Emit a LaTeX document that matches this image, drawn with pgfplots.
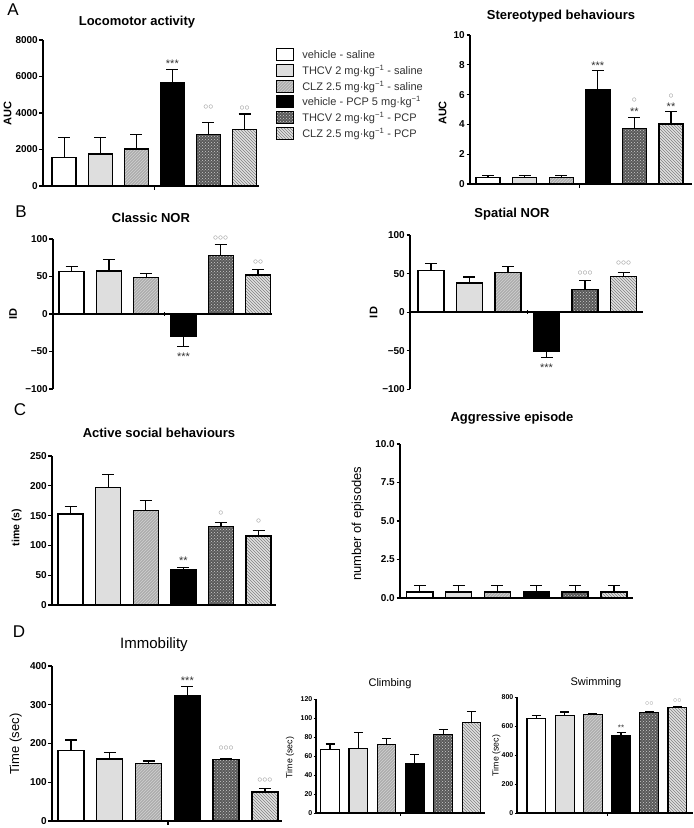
\documentclass[border=0pt]{standalone}
\usepackage{fontspec}
\setmainfont{Liberation Sans}
\usepackage{pgfplots}
\pgfplotsset{compat=1.18}
\usetikzlibrary{patterns}

% bar fills of the six groups
\tikzset{
  s1/.style={fill=white},
  s2/.style={fill=black!13},
  s3/.style={fill=black!32, postaction={pattern=north east lines, pattern color=black!18}},
  s4/.style={fill=black},
  s5/.style={fill=black!65, postaction={pattern=crosshatch dots, pattern color=black!20}},
  s6/.style={fill=black!12, postaction={pattern=north west lines, pattern color=black!50}},
  stars/.style={font=\fontsize{#1}{#1}\selectfont, text=black!80, inner sep=0pt, anchor=base, yshift={-0.57*#1pt}},
  stars/.default=11,
  circs/.style={font=\fontsize{#1}{#1}\selectfont, text=black!45, inner sep=0pt},
  circs/.default=10,
  ttl/.style={font=\bfseries\fontsize{13}{13}\selectfont, anchor=base},
  let/.style={font=\fontsize{17}{17}\selectfont, anchor=base},
}

\pgfplotsset{
  prism/.style={
    scale only axis,
    axis x line=bottom, axis y line=left,
    axis line style={-, line width=1.4pt},
    tick align=outside,
    major tick length=3.5pt,
    tick style={line width=1.1pt, black},
    xtick={3.5}, xticklabels={},
    enlargelimits=false,
    clip=false,
    scaled y ticks=false,
    hide obscured x ticks=false, hide obscured y ticks=false,
    /pgf/number format/assume math mode=true,
    /pgf/number format/1000 sep={},
    yticklabel style={font=\bfseries\fontsize{10}{10}\selectfont, inner sep=1.5pt},
  },
  mid/.style={axis x line=middle,
    every inner x axis line/.style={-, line width=1.4pt},
    x axis line style={-}},
  pbar/.style={ybar, bar shift=0pt, draw=black, line width=1.4pt,
    /pgfplots/error bars/y dir=plus,
    /pgfplots/error bars/y explicit,
    /pgfplots/error bars/error bar style={line width=1.2pt, black, solid},
    /pgfplots/error bars/error mark options={rotate=90, mark size=#1, line width=1.2pt, black}},
  pbar/.default=6pt,
}

\newcommand\oo{${\circ}{\circ}$}
\newcommand\ooo{${\circ}{\circ}{\circ}$}
\newcommand\oc{${\circ}$}

\begin{document}
\begin{tikzpicture}
\path[use as bounding box] (0pt,0pt) rectangle (694pt,-828pt);

% ---------------- A: locomotor activity
\begin{axis}[prism, at={(43pt,-186pt)}, anchor=south west,
  width=216pt, height=146pt, xmin=0.415, xmax=6.40, ymin=0, ymax=8000,
  ytick={0,2000,4000,6000,8000}, bar width=0.665,
  legend style={at={(1.0787,0.945)}, anchor=north west, draw=none, fill=none,
    font=\fontsize{11}{12}\selectfont, text=black!80, row sep=2.6pt, inner sep=0pt,
    nodes={inner sep=0pt, anchor=west},
    /tikz/every odd column/.append style={column sep=8pt}},
  legend cell align=left,
  legend image code/.code={\draw[#1,/tikz/.cd,line width=1.1pt] (0pt,-6pt) rectangle (17pt,6pt);},
]
\addplot[pbar, s1] coordinates {(1,1570) +- (0,1080)};
\addplot[pbar, s2] coordinates {(2,1750) +- (0,900)};
\addplot[pbar, s3] coordinates {(3,2030) +- (0,800)};
\addplot[pbar, s4] coordinates {(4,5660) +- (0,730)};
\addplot[pbar, s5] coordinates {(5,2830) +- (0,640)};
\addplot[pbar, s6] coordinates {(6,3100) +- (0,850)};
\legend{vehicle - saline,
  THCV 2 mg·kg\textsuperscript{−1} - saline,
  CLZ 2.5 mg·kg\textsuperscript{−1} - saline,
  vehicle - PCP 5 mg·kg\textsuperscript{−1},
  THCV 2 mg·kg\textsuperscript{−1} - PCP,
  CLZ 2.5 mg·kg\textsuperscript{−1} - PCP}
\node[stars] at (axis cs:4,6849) {***};
\node[circs] at (axis cs:5,4328) {\oo};
\node[circs] at (axis cs:6,4274) {\oo};
\end{axis}

% ---------------- A: stereotyped behaviours
\begin{axis}[prism, at={(470pt,-184pt)}, anchor=south west,
  width=222pt, height=149pt, xmin=0.508, xmax=6.574, ymin=0, ymax=10,
  ytick={0,2,4,6,8,10}, bar width=0.656]
\addplot[pbar, s1] coordinates {(1,0.45) +- (0,0.1)};
\addplot[pbar, s2] coordinates {(2,0.45) +- (0,0.1)};
\addplot[pbar, s3] coordinates {(3,0.45) +- (0,0.1)};
\addplot[pbar, s4] coordinates {(4,6.32) +- (0,1.29)};
\addplot[pbar, s5] coordinates {(5,3.71) +- (0,0.78)};
\addplot[pbar, s6] coordinates {(6,4.04) +- (0,0.80)};
\node[stars] at (axis cs:4,8.12) {***};
\node[circs] at (axis cs:5,5.64) {\oc};
\node[stars] at (axis cs:5,5.03) {**};
\node[circs] at (axis cs:6,5.91) {\oc};
\node[stars] at (axis cs:6,5.37) {**};
\end{axis}

% ---------------- B: classic NOR
\begin{axis}[prism, mid, at={(53pt,-389pt)}, anchor=south west,
  width=219pt, height=150pt, xmin=0.50, xmax=6.375, ymin=-100, ymax=100,
  ytick={-100,-50,0,50,100}, yticklabels={−100,−50,0,50,100}, bar width=0.67]
\addplot[pbar, s1] coordinates {(1,56.4) +- (0,6.6)};
\addplot[pbar, s2] coordinates {(2,57.3) +- (0,15.7)};
\addplot[pbar, s3] coordinates {(3,48.4) +- (0,5.8)};
\addplot[pbar, s4, /pgfplots/error bars/y dir=minus] coordinates {(4,-29.3) +- (0,14.3)};
\addplot[pbar, s5] coordinates {(5,77.8) +- (0,14.6)};
\addplot[pbar, s6] coordinates {(6,52) +- (0,7)};
\node[circs] at (axis cs:5,101.3) {\ooo};
\node[circs] at (axis cs:6,69.3) {\oo};
\node[stars] at (axis cs:4,-53.3) {***};
\end{axis}

% ---------------- B: spatial NOR
\begin{axis}[prism, mid, at={(410pt,-389.3pt)}, anchor=south west,
  width=233pt, height=154.3pt, xmin=0.455, xmax=6.506, ymin=-100, ymax=100,
  ytick={-100,-50,0,50,100}, yticklabels={−100,−50,0,50,100}, bar width=0.675]
\addplot[pbar, s1] coordinates {(1,54.1) +- (0,8.7)};
\addplot[pbar, s2] coordinates {(2,37.7) +- (0,7.8)};
\addplot[pbar, s3] coordinates {(3,51.5) +- (0,7.8)};
\addplot[pbar, s4, /pgfplots/error bars/y dir=minus] coordinates {(4,-50.2) +- (0,8.2)};
\addplot[pbar, s5] coordinates {(5,29.0) +- (0,11.7)};
\addplot[pbar, s6] coordinates {(6,46.3) +- (0,5.2)};
\node[circs] at (axis cs:5,51) {\ooo};
\node[circs] at (axis cs:6,64) {\ooo};
\node[stars] at (axis cs:4,-68.4) {***};
\end{axis}

% ---------------- C: active social behaviours
\begin{axis}[prism, at={(52pt,-605pt)}, anchor=south west, xtick=\empty,
  width=224pt, height=149pt, xmin=0.508, xmax=6.465, ymin=0, ymax=250,
  ytick={0,50,100,150,200,250}, bar width=0.665]
\addplot[pbar, s1] coordinates {(1,152.9) +- (0,12.8)};
\addplot[pbar, s2] coordinates {(2,197.5) +- (0,21.3)};
\addplot[pbar, s3] coordinates {(3,158.5) +- (0,17.3)};
\addplot[pbar, s4] coordinates {(4,59.7) +- (0,3.9)};
\addplot[pbar, s5] coordinates {(5,131.7) +- (0,6.7)};
\addplot[pbar, s6] coordinates {(6,115.5) +- (0,9.5)};
\node[stars] at (axis cs:4,78.9) {**};
\node[circs] at (axis cs:5,154.4) {\oc};
\node[circs] at (axis cs:6,140.9) {\oc};
\end{axis}

% ---------------- C: aggressive episode
\begin{axis}[prism, at={(400pt,-598pt)}, anchor=south west, xtick=\empty,
  width=233pt, height=154pt, xmin=0.49, xmax=6.49, ymin=0, ymax=10,
  ytick={0,2.5,5,7.5,10}, yticklabels={0.0,2.5,5.0,7.5,10.0}, bar width=0.67]
\addplot[pbar, s1] coordinates {(1,0.4) +- (0,0.4)};
\addplot[pbar, s2] coordinates {(2,0.4) +- (0,0.4)};
\addplot[pbar, s3] coordinates {(3,0.4) +- (0,0.4)};
\addplot[pbar, s4] coordinates {(4,0.4) +- (0,0.4)};
\addplot[pbar, s5] coordinates {(5,0.4) +- (0,0.4)};
\addplot[pbar, s6] coordinates {(6,0.4) +- (0,0.4)};
\end{axis}

% ---------------- D: immobility
\begin{axis}[prism, at={(52pt,-821pt)}, anchor=south west,
  width=230pt, height=155pt, xmin=0.51, xmax=6.44, ymin=0, ymax=400,
  ytick={0,100,200,300,400}, bar width=0.67]
\addplot[pbar, s1] coordinates {(1,181.5) +- (0,27.5)};
\addplot[pbar, s2] coordinates {(2,160) +- (0,17)};
\addplot[pbar, s3] coordinates {(3,149) +- (0,6)};
\addplot[pbar, s4] coordinates {(4,322.6) +- (0,24.1)};
\addplot[pbar, s5] coordinates {(5,159) +- (0,3)};
\addplot[pbar, s6] coordinates {(6,75) +- (0,8)};
\node[stars] at (axis cs:4,369) {***};
\node[circs] at (axis cs:5,188) {\ooo};
\node[circs] at (axis cs:6,106) {\ooo};
\end{axis}

% ---------------- D: climbing
\begin{axis}[prism, at={(316pt,-813pt)}, anchor=south west,
  width=169pt, height=114pt, xmin=0.505, xmax=6.48, ymin=0, ymax=120,
  ytick={0,20,40,60,80,100,120}, bar width=0.655,
  axis line style={-, line width=1.1pt}, major tick length=2.5pt, tick style={line width=0.9pt},
  yticklabel style={font=\bfseries\fontsize{7}{7}\selectfont, inner sep=1pt}]
\addplot[pbar=4.5pt, s1, line width=1.1pt] coordinates {(1,66.4) +- (0,6.3)};
\addplot[pbar=4.5pt, s2, line width=1.1pt] coordinates {(2,68.1) +- (0,16.6)};
\addplot[pbar=4.5pt, s3, line width=1.1pt] coordinates {(3,72.4) +- (0,6.3)};
\addplot[pbar=4.5pt, s4, line width=1.1pt] coordinates {(4,51.9) +- (0,9.5)};
\addplot[pbar=4.5pt, s5, line width=1.1pt] coordinates {(5,83) +- (0,4.5)};
\addplot[pbar=4.5pt, s6, line width=1.1pt] coordinates {(6,95) +- (0,12)};
\end{axis}

% ---------------- D: swimming
\begin{axis}[prism, at={(517pt,-813pt)}, anchor=south west,
  width=176pt, height=116pt, xmin=0.31, xmax=6.55, ymin=0, ymax=800,
  ytick={0,200,400,600,800}, bar width=0.67,
  axis line style={-, line width=1.1pt}, major tick length=2.5pt, tick style={line width=0.9pt},
  yticklabel style={font=\bfseries\fontsize{7}{7}\selectfont, inner sep=1pt}]
\addplot[pbar=4.5pt, s1, line width=1.1pt] coordinates {(1,650) +- (0,23)};
\addplot[pbar=4.5pt, s2, line width=1.1pt] coordinates {(2,671) +- (0,25)};
\addplot[pbar=4.5pt, s3, line width=1.1pt] coordinates {(3,677) +- (0,7)};
\addplot[pbar=4.5pt, s4, line width=1.1pt] coordinates {(4,532) +- (0,25)};
\addplot[pbar=4.5pt, s5, line width=1.1pt] coordinates {(5,694) +- (0,4)};
\addplot[pbar=4.5pt, s6, line width=1.1pt] coordinates {(6,728) +- (0,3)};
\node[stars=8] at (axis cs:4,600) {**};
\node[circs=8] at (axis cs:5,752) {\oo};
\node[circs=8] at (axis cs:6,772) {\oo};
\end{axis}

% ---------------- panel letters, titles, axis labels
\node[let] at (13pt,-15pt) {A};
\node[let] at (21pt,-217pt) {B};
\node[let] at (20pt,-415pt) {C};
\node[let] at (19pt,-637pt) {D};

\node[ttl] at (137pt,-25pt) {Locomotor activity};
\node[ttl] at (561pt,-19.5pt) {Stereotyped behaviours};
\node[ttl] at (151pt,-222pt) {Classic NOR};
\node[ttl] at (512pt,-217.5pt) {Spatial NOR};
\node[ttl] at (159pt,-437pt) {Active social behaviours};
\node[ttl] at (512pt,-421.5pt) {Aggressive episode};
\node[font=\fontsize{15}{15}\selectfont, anchor=base] at (154pt,-648pt) {Immobility};
\node[font=\fontsize{11}{11}\selectfont, anchor=base] at (390pt,-686pt) {Climbing};
\node[font=\fontsize{11}{11}\selectfont, anchor=base] at (596pt,-685pt) {Swimming};

\node[rotate=90, font=\bfseries\fontsize{11}{11}\selectfont] at (7.5pt,-113.5pt) {AUC};
\node[rotate=90, font=\bfseries\fontsize{11}{11}\selectfont] at (442.5pt,-113pt) {AUC};
\node[rotate=90, font=\bfseries\fontsize{11}{11}\selectfont] at (13pt,-314pt) {ID};
\node[rotate=90, font=\bfseries\fontsize{11}{11}\selectfont] at (373.7pt,-312.5pt) {ID};
\node[rotate=90, font=\bfseries\fontsize{10.5}{10.5}\selectfont] at (16.7pt,-527.5pt) {time (s)};
\node[rotate=90, font=\fontsize{13}{13}\selectfont] at (357.8pt,-523.8pt) {number of episodes};
\node[rotate=90, font=\fontsize{13}{13}\selectfont] at (15.8pt,-744pt) {Time (sec)};
\node[rotate=90, font=\fontsize{8.8}{8.8}\selectfont] at (290pt,-757.5pt) {Time (sec)};
\node[rotate=90, font=\fontsize{8.8}{8.8}\selectfont] at (496.3pt,-755.5pt) {Time (sec)};
\end{tikzpicture}
\end{document}
